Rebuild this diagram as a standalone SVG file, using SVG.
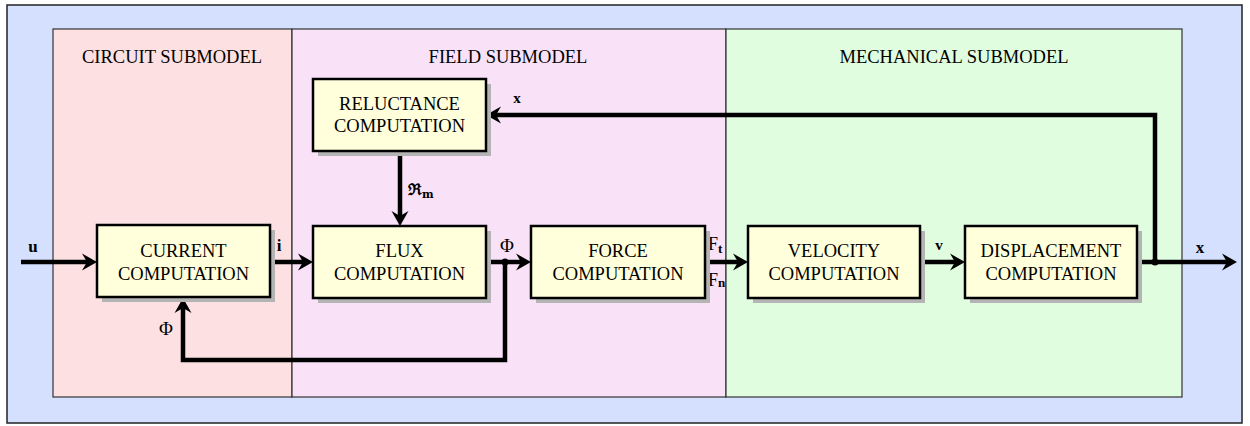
<svg xmlns="http://www.w3.org/2000/svg" width="1250" height="426" viewBox="0 0 1250 426">
<defs>
<style>
.title{font-family:"Liberation Serif","Times New Roman",serif;font-size:18.5px;fill:#000;text-anchor:middle}
.box{fill:#ffffdc;stroke:#000;stroke-width:2.5}
.shadow{fill:#b4b4b4}
.btxt{font-family:"Liberation Serif","Times New Roman",serif;font-size:18.5px;fill:#000;text-anchor:middle}
.lbl{font-family:"Liberation Serif","Times New Roman",serif;font-size:17px;font-weight:bold;fill:#000;text-anchor:middle}
.phi{font-family:"Liberation Serif","Times New Roman",serif;font-size:19px;fill:#000;text-anchor:middle}
.sm{font-family:"Liberation Serif","Times New Roman",serif;font-size:15px;font-weight:bold;fill:#000;text-anchor:middle}
.conn{fill:none;stroke:#000;stroke-width:4.5;stroke-linejoin:miter}
.panel{stroke:#333;stroke-width:1.2}
</style>
<marker id="arr" viewBox="-8 -9 17 18" refX="0" refY="0" markerWidth="17" markerHeight="18" markerUnits="userSpaceOnUse" orient="auto">
<path d="M8,0 L-7,-8.5 L-2,0 L-7,8.5 Z" fill="#000"/>
</marker>
</defs>
<rect x="7" y="5" width="1235" height="418" fill="#d4e0fe" stroke="#222" stroke-width="1.5"/>
<g id="circuit-panel">
<rect class="panel" x="53" y="29" width="239" height="368" fill="#fde0e2"/>
<text class="title" x="172" y="63">CIRCUIT SUBMODEL</text>
</g>
<g id="field-panel">
<rect class="panel" x="292" y="29" width="434" height="368" fill="#f9e2f8"/>
<text class="title" x="508" y="63">FIELD SUBMODEL</text>
</g>
<g id="mechanical-panel">
<rect class="panel" x="726" y="29" width="456" height="368" fill="#e0fde0"/>
<text class="title" x="954" y="63">MECHANICAL SUBMODEL</text>
</g>
<g id="connectors">
<path class="conn" d="M21,262 H89" marker-end="url(#arr)"/>
<path class="conn" d="M270,262 H305" marker-end="url(#arr)"/>
<path class="conn" d="M486,262 H523" marker-end="url(#arr)"/>
<path class="conn" d="M705,262 H740" marker-end="url(#arr)"/>
<path class="conn" d="M920,262 H957" marker-end="url(#arr)"/>
<path class="conn" d="M1137,262 H1229" marker-end="url(#arr)"/>
<path class="conn" d="M400,151 V218" marker-end="url(#arr)"/>
<path class="conn" d="M1155,262 V115 H494" marker-end="url(#arr)"/>
<path class="conn" d="M505,262 V360 H183 V306" marker-end="url(#arr)"/>
<circle cx="505" cy="262" r="3.5" fill="#000"/>
<circle cx="1155" cy="262" r="3.5" fill="#000"/>
<text class="lbl" x="33" y="252">u</text>
<text class="lbl" x="279" y="251">i</text>
<text class="phi" x="507" y="252">Φ</text>
<text class="phi" x="166" y="335">Φ</text>
<text class="sm" x="517" y="103">x</text>
<text class="sm" x="939" y="250">v</text>
<text class="lbl" x="1200" y="253">x</text>
<text x="408" y="195" font-family="DejaVu Serif,serif" font-size="16" font-weight="bold">ℜ<tspan font-size="11" dy="3">m</tspan></text>
<text x="708" y="250" font-family="Liberation Serif,serif" font-size="18">F<tspan font-size="13" font-weight="bold" dy="3">t</tspan></text>
<text x="708" y="286" font-family="Liberation Serif,serif" font-size="18">F<tspan font-size="13" font-weight="bold" dy="1">n</tspan></text>
</g>
<g id="current">
<rect class="shadow" x="102" y="230" width="173" height="72"/>
<rect class="box" x="97" y="225" width="173" height="72"/>
<text class="btxt" x="183.5" y="257">CURRENT</text>
<text class="btxt" x="183.5" y="280">COMPUTATION</text>
</g>
<g id="reluctance">
<rect class="shadow" x="318" y="84" width="173" height="72"/>
<rect class="box" x="313" y="79" width="173" height="72"/>
<text class="btxt" x="399.5" y="110">RELUCTANCE</text>
<text class="btxt" x="399.5" y="132">COMPUTATION</text>
</g>
<g id="flux">
<rect class="shadow" x="318" y="231" width="173" height="72"/>
<rect class="box" x="313" y="226" width="173" height="72"/>
<text class="btxt" x="399.5" y="257">FLUX</text>
<text class="btxt" x="399.5" y="280">COMPUTATION</text>
</g>
<g id="force">
<rect class="shadow" x="536" y="231" width="174" height="72"/>
<rect class="box" x="531" y="226" width="174" height="72"/>
<text class="btxt" x="618" y="257">FORCE</text>
<text class="btxt" x="618" y="280">COMPUTATION</text>
</g>
<g id="velocity">
<rect class="shadow" x="753" y="231" width="172" height="72"/>
<rect class="box" x="748" y="226" width="172" height="72"/>
<text class="btxt" x="834" y="257">VELOCITY</text>
<text class="btxt" x="834" y="280">COMPUTATION</text>
</g>
<g id="displacement">
<rect class="shadow" x="970" y="231" width="172" height="72"/>
<rect class="box" x="965" y="226" width="172" height="72"/>
<text class="btxt" x="1051" y="257">DISPLACEMENT</text>
<text class="btxt" x="1051" y="280">COMPUTATION</text>
</g>
</svg>
